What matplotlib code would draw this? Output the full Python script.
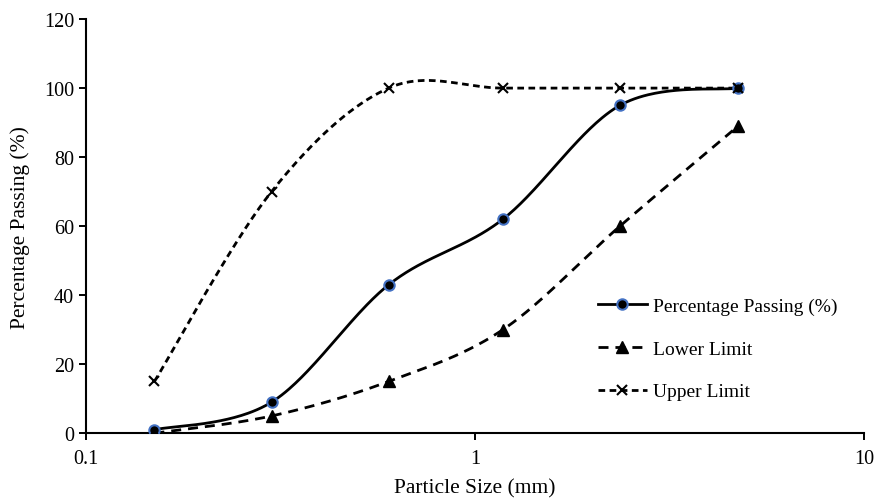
import numpy as np
import matplotlib
matplotlib.use("Agg")
import matplotlib.pyplot as plt

plt.rcParams['font.family'] = ['Liberation Serif', 'DejaVu Serif']

sizes = [0.15, 0.3, 0.6, 1.18, 2.36, 4.75]
passing = [1, 9, 43, 62, 95, 100]
lower = [0, 5, 15, 30, 60, 89]
upper = [15, 70, 100, 100, 100, 100]

fig = plt.figure(figsize=(8.77, 5.02), dpi=100)
ax = fig.add_axes([0.098, 0.135, 0.887, 0.825])
ax.set_xscale('log')
ax.set_xlim(0.1, 10)
ax.set_ylim(0, 120)

W = 0.887 * 877
H = 0.825 * 502


def smooth(xs, ys, n=60):
    # Excel-like smoothed line: Catmull-Rom Bezier in screen space
    px = np.log10(np.asarray(xs, float)) * (W / 2.0)
    py = np.asarray(ys, float) * (H / 120.0)
    P = np.column_stack([px, py])
    m = len(P)
    out = []
    for i in range(m - 1):
        p0 = P[i - 1] if i > 0 else P[i]
        p1 = P[i]
        p2 = P[i + 1]
        p3 = P[i + 2] if i + 2 < m else P[i + 1]
        c1 = p1 + (p2 - p0) / 6.0
        c2 = p2 - (p3 - p1) / 6.0
        t = np.linspace(0, 1, n)[:, None]
        seg = ((1 - t) ** 3) * p1 + 3 * ((1 - t) ** 2) * t * c1 + 3 * (1 - t) * t ** 2 * c2 + t ** 3 * p2
        out.append(seg if i == 0 else seg[1:])
    out = np.vstack(out)
    return 10 ** (out[:, 0] / (W / 2.0)), out[:, 1] / (H / 120.0)


lw = 2.0
ls_low = (0, (3.6, 2.5))
ls_up = (0, (2.4, 1.6))
sx, sy = smooth(sizes, passing)
ax.plot(sx, sy, color='black', lw=lw, zorder=3)
sx, sy = smooth(sizes, lower)
ax.plot(sx, sy, color='black', lw=lw, ls=ls_low, zorder=3)
sx, sy = smooth(sizes, upper)
ax.plot(sx, sy, color='black', lw=lw, ls=ls_up, zorder=3)

mk_p = dict(marker='o', ms=7.5, mfc='black', mec='#4472C4', mew=1.5)
mk_l = dict(marker='^', ms=8, mfc='black', mec='black')
mk_u = dict(marker='x', ms=7.5, mec='black', mew=1.5)
ax.plot(sizes, passing, ls='none', zorder=5, **mk_p)
ax.plot(sizes, lower, ls='none', zorder=5, **mk_l)
ax.plot(sizes, upper, ls='none', zorder=5, **mk_u)

h1, = ax.plot([], [], color='black', lw=lw, **mk_p)
h2, = ax.plot([], [], color='black', lw=lw, ls=ls_low, **mk_l)
h3, = ax.plot([], [], color='black', lw=lw, ls=ls_up, **mk_u)
ax.legend([h1, h2, h3], ['Percentage Passing (%)', 'Lower Limit', 'Upper Limit'],
          loc='center left', bbox_to_anchor=(598 / 877, 1 - 350 / 502),
          bbox_transform=fig.transFigure, frameon=False, fontsize=14,
          labelspacing=1.28, handlelength=2.5, handletextpad=0.35,
          borderpad=0, borderaxespad=0)

ax.set_xticks([0.1, 1, 10])
ax.set_xticklabels(['0.1', '1', '10'])
ax.xaxis.set_minor_locator(matplotlib.ticker.NullLocator())
ax.set_yticks(range(0, 121, 20))
ax.tick_params(axis='both', labelsize=14.5, direction='out', length=5, width=1.4, colors='black')
ax.tick_params(axis='x', pad=6)
ax.set_xlabel('Particle Size (mm)', fontsize=15.5, labelpad=8)
ax.set_ylabel('Percentage Passing (%)', fontsize=15.5, labelpad=10)

for s in ['top', 'right']:
    ax.spines[s].set_visible(False)
for s in ['left', 'bottom']:
    ax.spines[s].set_linewidth(1.5)
    ax.spines[s].set_color('black')

fig.savefig('out.png', dpi=100)
